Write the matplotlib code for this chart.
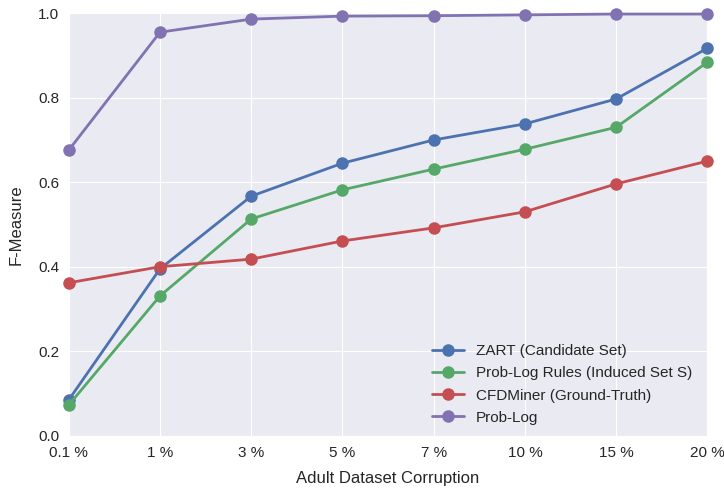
import matplotlib
matplotlib.use("Agg")
import matplotlib.pyplot as plt
import seaborn as sns

categories = ["0.1 %", "1 %", "3 %", "5 %", "7 %", "10 %", "15 %", "20 %"]
zart = [0.085, 0.395, 0.567, 0.645, 0.700, 0.738, 0.797, 0.917]
problog_rules = [0.073, 0.331, 0.513, 0.582, 0.631, 0.678, 0.730, 0.884]
cfdminer = [0.362, 0.400, 0.418, 0.461, 0.492, 0.530, 0.596, 0.650]
problog = [0.676, 0.955, 0.986, 0.993, 0.994, 0.996, 0.998, 0.998]

sns.set_style("darkgrid")
plt.rcParams['font.family'] = ['Liberation Sans', 'DejaVu Sans']

fig = plt.figure(figsize=(7.24, 4.88), dpi=100)
ax = fig.add_axes([0.095, 0.107, 0.882, 0.866])

x = list(range(len(categories)))
colors = ["#4C72B0", "#55A868", "#C44E52", "#8172B2"]
series = [
    ("ZART (Candidate Set)", zart),
    ("Prob-Log Rules (Induced Set S)", problog_rules),
    ("CFDMiner (Ground-Truth)", cfdminer),
    ("Prob-Log", problog),
]
for (lab, vals), c in zip(series, colors):
    ax.plot(x, vals, marker='o', color=c, lw=2, ms=8, label=lab, clip_on=False, zorder=3)

ax.set_xlim(0, len(categories) - 1)
ax.set_ylim(0, 1.0)
ax.set_xticks(x)
ax.set_xticklabels(categories)
ax.set_yticks([0.0, 0.2, 0.4, 0.6, 0.8, 1.0])
ax.tick_params(labelsize=11, colors='#262626', length=0, pad=7)
ax.set_xlabel("Adult Dataset Corruption", fontsize=12, color='#262626', labelpad=8)
ax.set_ylabel("F-Measure", fontsize=12, color='#262626', labelpad=10)

ax.legend(loc='lower right', bbox_to_anchor=(0.986, 0.012), fontsize=11, frameon=False,
          handlelength=2.1, handletextpad=0.8, labelspacing=0.53, borderaxespad=0)

fig.savefig("out.png", dpi=100)
